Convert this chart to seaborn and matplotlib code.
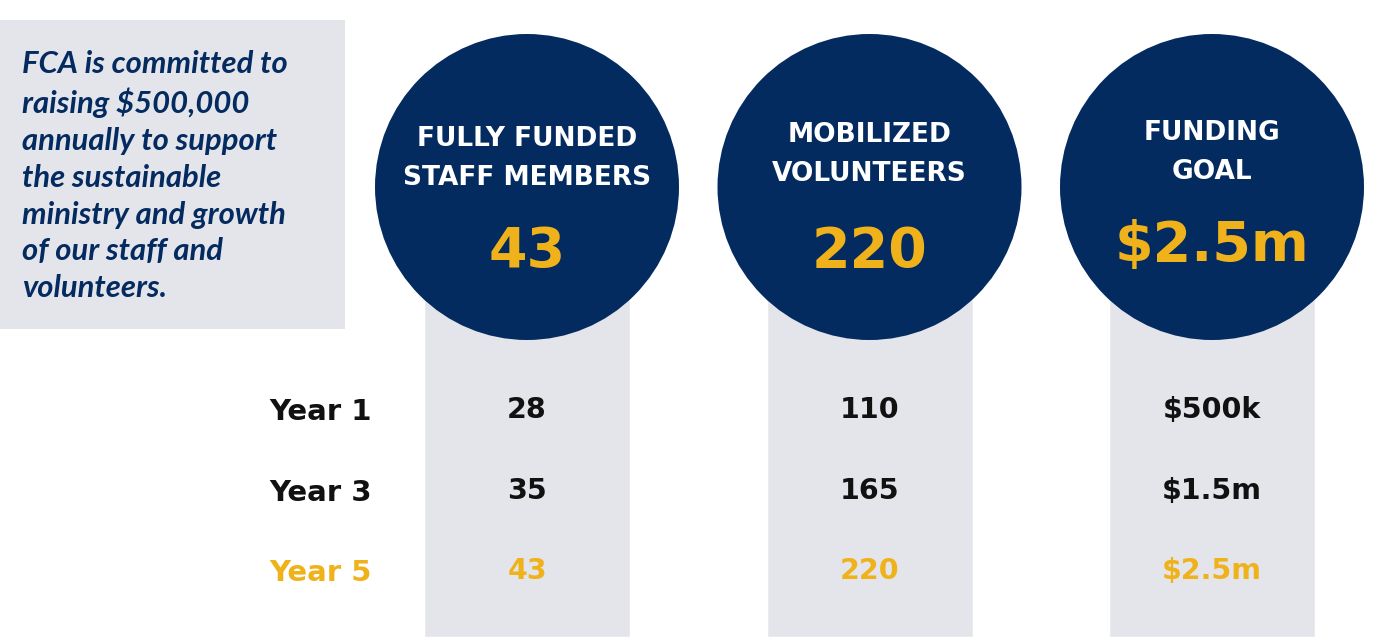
import matplotlib.pyplot as plt
import seaborn as sns
from matplotlib.patches import Ellipse, Rectangle

NAVY = "#042b60"
GOLD = "#f0b21b"
LIGHT_GRAY = "#e4e5ea"
INK = "#111111"

# data
metric_titles = ["FULLY FUNDED\nSTAFF MEMBERS", "MOBILIZED\nVOLUNTEERS", "FUNDING\nGOAL"]
goal_labels = ["43", "220", "$2.5m"]
year_labels = ["Year 1", "Year 3", "Year 5"]
staff_values = ["28", "35", "43"]
volunteer_values = ["110", "165", "220"]
funding_values = ["$500k", "$1.5m", "$2.5m"]
intro_text = (
    "FCA is committed to\nraising $500,000\nannually to support\nthe sustainable\n"
    "ministry and growth\nof our staff and\nvolunteers."
)

FIG_W, FIG_H = 1384, 637
COL_STEP = 342.5
COL0_PX = 527

HEAD_FONT = ["DejaVu Sans"]
BODY_FONT = ["Lato", "DejaVu Sans"]

sns.set_theme(style="white")
plt.rcParams["font.family"] = ["DejaVu Sans"]

fig = plt.figure(figsize=(FIG_W / 100, FIG_H / 100), dpi=100)
ax = fig.add_axes([0, 0, 1, 1])

positions = list(range(len(metric_titles)))

# gray columns behind the circles
sns.barplot(
    x=positions,
    y=[FIG_H - 300] * len(metric_titles),
    bottom=300,
    width=206 / COL_STEP,
    color=LIGHT_GRAY,
    saturation=1,
    native_scale=True,
    ax=ax,
    zorder=1,
)

ax.set_xlim((0 - COL0_PX) / COL_STEP, (FIG_W - COL0_PX) / COL_STEP)
ax.set_ylim(FIG_H, 0)
ax.axis("off")

# intro box
ax.add_patch(Rectangle(((0 - COL0_PX) / COL_STEP, 20), 345 / COL_STEP, 309,
                       facecolor=LIGHT_GRAY, edgecolor="none", zorder=1))
ax.text((22 - COL0_PX) / COL_STEP, 176, intro_text, color=NAVY, fontsize=22.3,
        fontweight="bold", fontstyle="italic", family=BODY_FONT,
        ha="left", va="center", linespacing=1.385, zorder=3)

title_y = [158.5, 154.5, 152.5]
goal_y = [252, 252, 246]
for i, (title, goal) in enumerate(zip(metric_titles, goal_labels)):
    ax.add_patch(Ellipse((i, 187), 2 * 152 / COL_STEP, 306, facecolor=NAVY,
                         edgecolor="none", zorder=2))
    ax.text(i, title_y[i], title, color="white", fontsize=19, fontweight="bold",
            family=HEAD_FONT, ha="center", va="center", linespacing=1.66, zorder=3)
    ax.text(i, goal_y[i], goal, color=GOLD, fontsize=40, fontweight="bold",
            family=HEAD_FONT, ha="center", va="center", zorder=3)

row_y = [410, 491, 571]
table = [staff_values, volunteer_values, funding_values]
for r, (label, y) in enumerate(zip(year_labels, row_y)):
    color = GOLD if r == len(year_labels) - 1 else INK
    ax.text((372 - COL0_PX) / COL_STEP, y + 2, label, color=color, fontsize=21,
            fontweight="bold", family=HEAD_FONT, ha="right", va="center", zorder=3)
    for i, values in enumerate(table):
        ax.text(i, y, values[r], color=color, fontsize=20.5, fontweight="bold",
                family=HEAD_FONT, ha="center", va="center", zorder=3)

fig.savefig("out.png", dpi=100, facecolor="white")
